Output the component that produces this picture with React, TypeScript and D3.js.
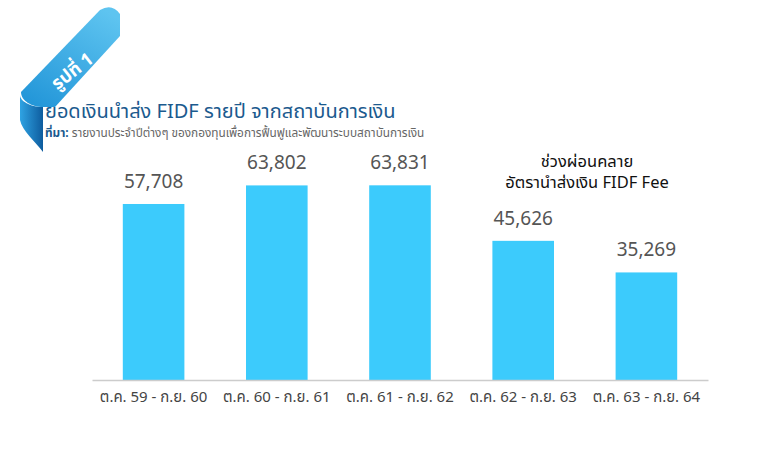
import React, { useRef, useEffect } from 'react';
import * as d3 from 'd3';

const periods = ['ต.ค. 59 - ก.ย. 60', 'ต.ค. 60 - ก.ย. 61', 'ต.ค. 61 - ก.ย. 62', 'ต.ค. 62 - ก.ย. 63', 'ต.ค. 63 - ก.ย. 64'];
const amounts = [57708, 63802, 63831, 45626, 35269];
const noteLines = ['ช่วงผ่อนคลาย', 'อัตรานำส่งเงิน FIDF Fee'];

const W = 773;
const H = 449;
const FONT = "'Noto Sans Thai', 'Noto Sans', 'DejaVu Sans', sans-serif";

function App() {
    const svgRef = useRef(null);

    useEffect(() => {
        const svg = d3.select(svgRef.current);
        svg.selectAll('*').remove();

        const x = d3.scaleBand().domain(periods).range([92, 708]).paddingInner(0.5).paddingOuter(0.25);
        const y = d3.scaleLinear().domain([0, 70000]).range([380, 166.5]);

        // ribbon badge
        const defs = svg.append('defs');
        const grad = defs.append('linearGradient').attr('id', 'rib').attr('x1', '0.8').attr('y1', '0').attr('x2', '0.2').attr('y2', '1');
        grad.append('stop').attr('offset', '0%').attr('stop-color', '#5ec4f0');
        grad.append('stop').attr('offset', '100%').attr('stop-color', '#2497d9');
        const grad2 = defs.append('linearGradient').attr('id', 'rib2').attr('x1', '0').attr('y1', '0').attr('x2', '1').attr('y2', '0');
        grad2.append('stop').attr('offset', '0%').attr('stop-color', '#2fa3e3');
        grad2.append('stop').attr('offset', '100%').attr('stop-color', '#0e5c9e');

        svg.append('path')
            .attr('d', 'M20,95 C20,101 30,107 43,107 L43,152 C35,141 22,131 20,120 Z')
            .attr('fill', 'url(#rib2)');
        svg.append('path')
            .attr('d', 'M21,92 L100,10 Q112,3 120,14 L120,36 L55,107 L43,107 C32,107 21,101 21,92 Z')
            .attr('fill', 'url(#rib)');
        svg.append('text')
            .attr('x', 76).attr('y', 76)
            .attr('transform', 'rotate(-38,76,76)')
            .attr('text-anchor', 'middle')
            .attr('font-family', FONT).attr('font-size', 18).attr('font-weight', 'bold')
            .attr('fill', '#fff')
            .text('รูปที่ 1');

        svg.append('text')
            .attr('x', 45).attr('y', 118)
            .attr('font-family', FONT).attr('font-size', 20)
            .attr('fill', '#1b5a8e')
            .text('ยอดเงินนำส่ง FIDF รายปี จากสถาบันการเงิน');
        const sub = svg.append('text')
            .attr('x', 45).attr('y', 137)
            .attr('font-family', FONT).attr('font-size', 11.8);
        sub.append('tspan').attr('fill', '#1b5a8e').attr('font-weight', 'bold').text('ที่มา:');
        sub.append('tspan').attr('fill', '#666').text(' รายงานประจำปีต่างๆ ของกองทุนเพื่อการฟื้นฟูและพัฒนาระบบสถาบันการเงิน');

        // bars
        svg.selectAll('.bar')
            .data(amounts)
            .join('rect')
            .attr('class', 'bar')
            .attr('x', (d, i) => x(periods[i]))
            .attr('y', d => y(d))
            .attr('width', x.bandwidth())
            .attr('height', d => y(0) - y(d))
            .attr('fill', '#3ccbfc');

        svg.selectAll('.val')
            .data(amounts)
            .join('text')
            .attr('class', 'val')
            .attr('x', (d, i) => x(periods[i]) + x.bandwidth() / 2)
            .attr('y', d => y(d) - 16)
            .attr('text-anchor', 'middle')
            .attr('font-family', FONT).attr('font-size', 19)
            .attr('fill', '#555')
            .text(d => d3.format(',')(d));

        // axis
        const axis = svg.append('g')
            .attr('transform', `translate(0,${y(0)})`)
            .call(d3.axisBottom(x).tickSize(0).tickPadding(11));
        axis.select('.domain').attr('stroke', '#ccc').attr('stroke-width', 1.5);
        axis.selectAll('text')
            .attr('font-family', FONT).attr('font-size', 15)
            .attr('fill', '#444');

        svg.selectAll('.note')
            .data(noteLines)
            .join('text')
            .attr('class', 'note')
            .attr('x', 587)
            .attr('y', (d, i) => 167 + i * 21)
            .attr('text-anchor', 'middle')
            .attr('font-family', FONT).attr('font-size', 16.5)
            .attr('fill', '#111')
            .text(d => d);
    }, []);

    return (
        <div style={{ position: 'fixed', left: 0, top: 0 }}>
            <svg ref={svgRef} width={W} height={H} style={{ display: 'block', background: '#fff' }}></svg>
        </div>
    );
}

export default App;
